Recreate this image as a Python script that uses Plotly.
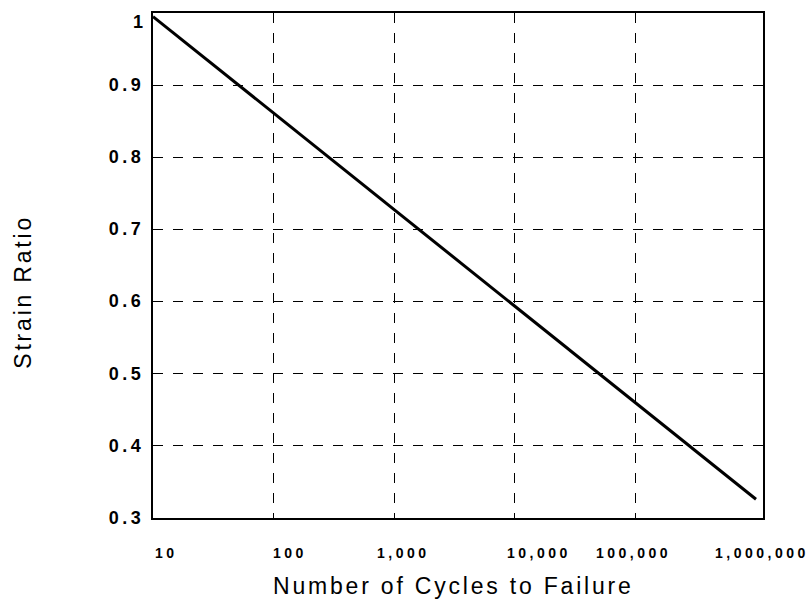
import math
import plotly.graph_objects as go

# ---- data ----
cycles = [10, 1000000]
strain_ratio = [0.995, 0.325]

x_tick_values = [10, 100, 1000, 10000, 100000, 1000000]
x_tick_labels = ["10", "100", "1,000", "10,000", "100,000", "1,000,000"]
x_grid_values = [100, 1000, 10000, 100000]

y_tick_values = [0.3, 0.4, 0.5, 0.6, 0.7, 0.8, 0.9]
y_tick_labels = ["0.3", "0.4", "0.5", "0.6", "0.7", "0.8", "0.9"]
y_top_value = 1.0
y_top_label = "1"

x_title = "Number of Cycles to Failure"
y_title = "Strain Ratio"

FONT = "Liberation Sans, Arial, Helvetica, sans-serif"


def spaced(text, px):
    return f'<span style="letter-spacing:{px}px">{text}</span>'


fig = go.Figure()
fig.add_trace(go.Scatter(
    x=cycles, y=strain_ratio, mode="lines",
    line=dict(color="black", width=3),
    showlegend=False, hoverinfo="skip",
))

grid_style = dict(showgrid=True, gridcolor="black", gridwidth=1, griddash="10px,10px")

fig.update_xaxes(
    type="log", range=[1, 6.058],
    tickmode="array", tickvals=x_grid_values, showticklabels=False,
    ticks="", zeroline=False,
    showline=True, mirror=True, linecolor="black", linewidth=2,
    **grid_style,
)
fig.update_yaxes(
    range=[0.299, 1.0],
    tickmode="array", tickvals=y_tick_values,
    ticktext=[spaced(t, 3.5) for t in y_tick_labels],
    tickfont=dict(family=FONT, size=18, color="black", weight="bold"),
    ticks="", ticklabelstandoff=3, zeroline=False,
    showline=True, mirror=True, linecolor="black", linewidth=2,
    **grid_style,
)

annotations = []
# x tick labels (scan shows them slightly offset from the gridlines)
x_label_shift = [12, 15, 8, 22, -4, 4]
for v, t, s in zip(x_tick_values, x_tick_labels, x_label_shift):
    annotations.append(dict(
        x=math.log10(v), xref="x", y=-0.069, yref="paper",
        text=spaced(t, 3.5), showarrow=False, xanchor="center", yanchor="middle",
        xshift=s + 1.75,
        font=dict(family=FONT, size=14, color="black", weight="bold"),
    ))
# top y label "1"
annotations.append(dict(
    x=0, xref="paper", y=y_top_value, yref="y",
    text=spaced(y_top_label, 3.5), showarrow=False, xanchor="right", yanchor="middle",
    xshift=-4, yshift=-9,
    font=dict(family=FONT, size=18, color="black", weight="bold"),
))
# axis titles
annotations.append(dict(
    x=0.4907, xref="paper", y=-0.1347, yref="paper",
    text=spaced(x_title, 2.8), showarrow=False, xanchor="center", yanchor="middle",
    xshift=1.4,
    font=dict(family=FONT, size=23, color="black"),
))
annotations.append(dict(
    x=-0.2126, xref="paper", y=0.4515, yref="paper",
    text=spaced(y_title, 2.8), showarrow=False, xanchor="center", yanchor="middle",
    textangle=-90, yshift=-1.4,
    font=dict(family=FONT, size=23, color="black"),
))

fig.update_layout(
    width=808, height=599,
    margin=dict(l=153, r=45, t=13, b=81),
    paper_bgcolor="white", plot_bgcolor="white",
    annotations=annotations,
    showlegend=False,
)

fig.write_html("out.html")
